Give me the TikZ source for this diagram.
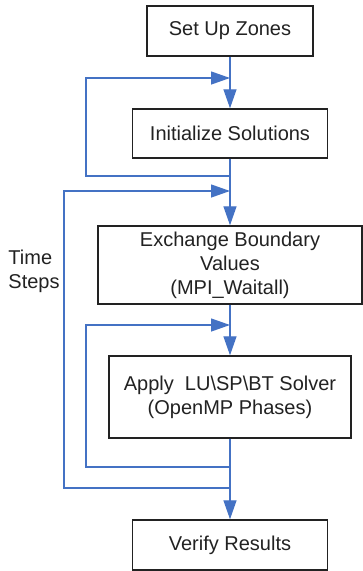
\documentclass[tikz,border=0pt]{standalone}
\usepackage{fontspec}
\setmainfont{Liberation Sans}
\usetikzlibrary{arrows.meta}
\definecolor{flowblue}{RGB}{68,114,196}
\definecolor{inkgray}{RGB}{34,34,34}
\begin{document}
\begin{tikzpicture}[x=1pt,y=-1pt,
  stage/.style={draw=inkgray,line width=1.4pt,fill=white,text=inkgray,
    inner sep=0pt,align=center,
    font=\fontsize{20}{24}\selectfont},
  flow/.style={draw=flowblue,line width=1.3pt},
  arr/.style={flow,-{Triangle[length=19pt,width=13pt]}}]
\useasboundingbox (0,0) rectangle (363,571);

% process stages
\node[stage,minimum width=166pt,minimum height=50pt] (setup) at (230,31) {Set Up Zones};
\node[stage,minimum width=195pt,minimum height=49pt] (init) at (230,133.5) {Initialize Solutions};
\node[stage,minimum width=264pt,minimum height=78pt] (exch) at (230,265) {Exchange Boundary\\Values\\(MPI\_Waitall)};
\node[stage,minimum width=242pt,minimum height=82pt] (apply) at (230,397) {Apply\ \ LU\textbackslash SP\textbackslash BT Solver\\(OpenMP Phases)};
\node[stage,minimum width=195pt,minimum height=50pt] (verify) at (230,545) {Verify Results};

\node[text=inkgray,align=left,font=\fontsize{20}{24}\selectfont] (ts) at (34,271) {Time\\Steps};

% junction points on the main line and loop corners
\coordinate (j1in) at (230,78);
\coordinate (j1out) at (230,176);
\coordinate (j2in) at (230,191);
\coordinate (j2out) at (230,488);
\coordinate (j3in) at (230,325);
\coordinate (j3out) at (230,467);

% main downward flow
\draw[arr] (setup.south) -- (init.north);
\draw[arr] (init.south) -- (exch.north);
\draw[arr] (exch.south) -- (apply.north);
\draw[arr] (apply.south) -- (verify.north);

% feedback loops
\draw[arr] (j1out) -- (86,176) -- (86,78) -- (j1in);
\draw[arr] (j2out) -- (64,488) -- (64,191) -- (j2in);
\draw[arr] (j3out) -- (86,467) -- (86,325) -- (j3in);
\end{tikzpicture}
\end{document}
